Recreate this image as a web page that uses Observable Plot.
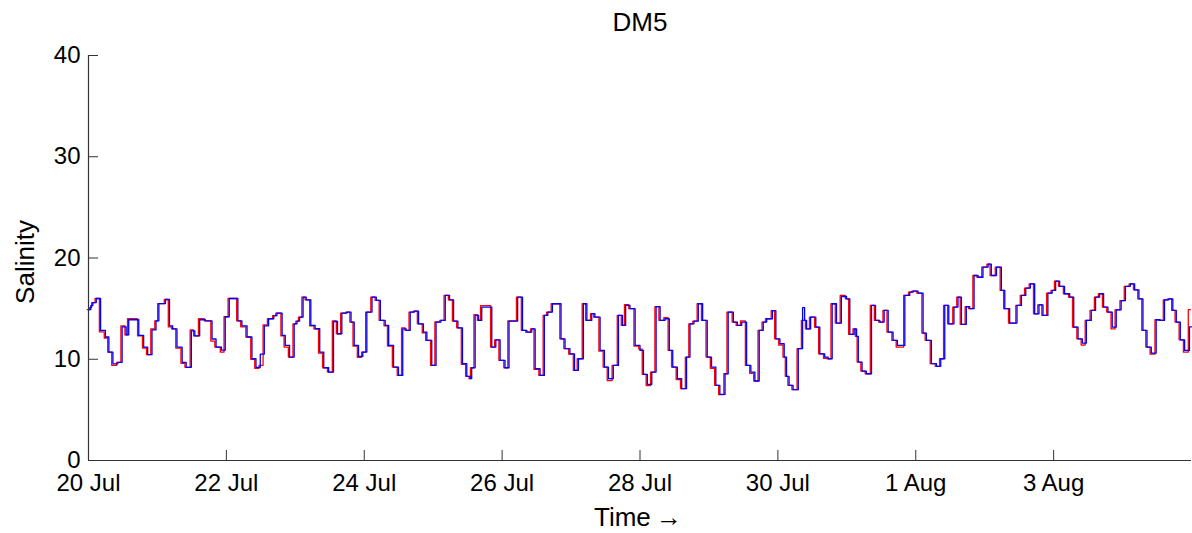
<!DOCTYPE html>
<html>
<head>
<meta charset="utf-8">
<script src="https://cdn.jsdelivr.net/npm/d3@7"></script>
<script src="https://cdn.jsdelivr.net/npm/@observablehq/plot@0.6"></script>
<style>
  html, body { margin: 0; padding: 0; background: #fff; }
  #chart { width: 1192px; height: 533px; }
</style>
</head>
<body>
<div id="chart"></div>
<script>
// ---- data (hours since 20 Jul 00:00, step start times) ----
const chartTitle = "DM5";
const yLabel = "Salinity";
const xLabel = "Time\u2009\u2192";
const tickDays = [0, 2, 4, 6, 8, 10, 12, 14];
const tickLabels = ["20 Jul", "22 Jul", "24 Jul", "26 Jul", "28 Jul", "30 Jul", "1 Aug", "3 Aug"];
const yTicks = [0, 10, 20, 30, 40];
const spanHours = 384;

const stepHours = [
  0, 0.8, 1.5, 2.7, 4.2, 5.9, 7.1, 8.5, 10.2, 11.7, 13.1, 14.0, 17.5, 19.2, 20.6, 22.1, 23.5, 24.5, 26.8, 28.2,
  29.3, 30.8, 32.6, 34.0, 35.8, 37.0, 38.7, 40.7, 43.0, 44.4, 46.3, 47.6, 49.0, 52.0, 53.4, 55.2, 56.9, 58.3, 59.8, 61.2,
  62.7, 64.5, 65.6, 67.4, 68.5, 70.0, 71.6, 72.6, 73.5, 74.7, 75.8, 77.4, 78.9, 80.5, 81.9, 83.6, 85.3, 86.7, 88.2, 90.0,
  91.4, 92.5, 94.0, 95.5, 96.9, 98.7, 100.2, 101.6, 103.3, 104.5, 106.2, 107.9, 109.4, 110.6, 112.0, 113.5, 114.9, 116.6, 117.8, 119.5,
  121.0, 122.7, 124.2, 125.7, 127.1, 128.6, 130.2, 131.7, 132.9, 133.4, 134.6, 135.8, 136.9, 140.4, 141.8, 143.3, 145.0, 146.4, 149.4, 151.1,
  152.6, 154.3, 155.5, 157.2, 158.7, 159.9, 161.5, 164.5, 165.9, 167.6, 169.2, 170.55, 172.3, 173.5, 175.2, 176.3, 178.1, 179.6, 181.0, 182.7,
  184.5, 185.9, 187.0, 188.5, 190.3, 192.0, 193.2, 194.55, 196.1, 197.6, 199.0, 200.7, 202.2, 203.4, 205.0, 206.5, 208.2, 209.4, 210.8, 212.3,
  213.8, 215.4, 216.9, 218.4, 219.8, 221.6, 222.7, 224.5, 225.9, 227.4, 229.1, 230.6, 232.0, 233.5, 234.9, 236.1, 238.1, 239.3, 240.7, 242.2,
  243.0, 243.9, 245.3, 247.1, 248.6, 249.3, 250.0, 251.4, 253.2, 254.6, 256.3, 257.5, 258.9, 260.4, 262.1, 263.9, 265.05, 266.55, 267.4, 268.0,
  269.3, 270.8, 272.6, 274.0, 275.5, 277.0, 278.4, 280.1, 281.6, 284.2, 285.9, 287.1, 288.8, 290.55, 291.7, 293.45, 295.2, 296.7, 298.1, 299.5,
  301.3, 302.7, 303.9, 305.6, 306.8, 308.3, 309.7, 311.4, 313.2, 314.3, 316.1, 317.8, 319.0, 320.7, 323.25, 324.8, 326.3, 327.9, 329.4, 330.9,
  332.3, 334.0, 335.5, 336.7, 338.1, 339.8, 341.6, 343.0, 344.5, 346.0, 347.4, 349.1, 350.6, 352.0, 353.4, 354.9, 356.4, 357.8, 359.5, 361.0,
  362.7, 364.2, 365.7, 367.1, 368.5, 370.0, 371.7, 373.1, 374.6, 376.1, 377.5, 378.7, 380.1, 381.6, 383.3, 384
];

const blueSalinity = [
  14.9, 15.3, 15.6, 16.0, 12.85, 12.2, 10.7, 9.55, 9.7, 13.2, 12.4, 13.9, 12.35, 11.2, 10.45, 12.9, 13.8, 15.5, 15.9, 13.3,
  13.0, 11.2, 9.7, 9.2, 12.8, 12.3, 13.9, 13.8, 12.0, 11.2, 10.9, 14.2, 16.0, 13.8, 13.3, 12.2, 10.05, 9.2, 10.5, 13.3,
  14.0, 14.3, 14.56, 12.35, 11.37, 10.21, 13.5, 13.77, 14.16, 16.13, 15.87, 13.34, 13.01, 10.71, 9.16, 8.73, 13.73, 12.52, 14.56, 14.66,
  13.67, 11.37, 10.28, 10.71, 14.66, 16.13, 15.81, 13.83, 13.34, 11.37, 9.23, 8.4, 13.0, 12.85, 14.66, 14.75, 13.5, 12.68, 11.86, 9.39,
  13.67, 13.83, 16.3, 15.87, 13.77, 13.1, 9.56, 8.31, 8.08, 9.16, 14.33, 13.83, 15.15, 11.2, 11.92, 9.88, 9.16, 13.77, 16.13, 12.85,
  12.68, 13.0, 9.06, 8.4, 14.33, 14.66, 15.48, 12.02, 11.04, 10.54, 8.9, 10.05, 15.48, 13.83, 14.5, 14.16, 10.87, 9.23, 8.08, 9.39,
  14.33, 13.34, 15.32, 15.0, 11.37, 10.87, 8.5, 7.52, 8.73, 15.2, 13.83, 14.0, 10.87, 9.23, 8.08, 7.09, 10.21, 13.5, 13.77, 15.48,
  13.83, 10.21, 9.23, 7.42, 6.53, 8.57, 14.66, 13.67, 13.34, 13.67, 9.39, 8.73, 7.85, 12.85, 13.67, 14.0, 14.8, 12.02, 11.53, 10.21,
  8.31, 7.42, 7.0, 11.04, 15.1, 13.83, 13.0, 14.16, 13.17, 10.54, 10.21, 10.05, 15.48, 13.57, 16.2, 15.97, 12.45, 13.0, 12.25, 9.72,
  8.83, 8.57, 15.32, 13.83, 13.67, 14.82, 12.68, 11.86, 11.37, 16.3, 16.63, 16.73, 16.53, 12.58, 11.86, 9.56, 9.3, 10.05, 15.32, 13.5,
  15.15, 16.13, 13.44, 15.2, 15.0, 18.27, 18.1, 19.1, 19.4, 18.27, 19.1, 16.8, 15.0, 13.57, 15.32, 16.3, 17.03, 17.45, 14.49, 15.38,
  14.33, 16.53, 16.8, 17.72, 17.2, 16.47, 16.13, 13.17, 12.02, 11.6, 13.83, 14.82, 16.13, 16.47, 15.15, 14.66, 13.17, 14.88, 15.8, 17.2,
  17.45, 16.86, 15.97, 12.85, 11.2, 10.61, 13.9, 13.83, 15.87, 15.97, 14.82, 13.67, 11.92, 10.87, 13.2, 13.2
];

const redSalinity = [
  14.9, 15.1, 15.6, 16.0, 12.7, 12.1, 10.7, 9.4, 9.7, 13.3, 12.4, 14.0, 12.3, 11.1, 10.45, 13.0, 13.8, 15.5, 15.9, 13.2,
  13.0, 11.1, 9.6, 9.2, 12.9, 12.3, 14.0, 13.8, 11.8, 11.2, 10.7, 14.2, 16.0, 13.8, 13.2, 12.2, 10.0, 9.1, 9.4, 13.4,
  14.0, 14.3, 14.56, 12.3, 11.2, 10.21, 13.5, 13.77, 14.16, 16.13, 15.87, 13.3, 13.0, 10.6, 9.16, 8.73, 13.8, 12.52, 14.56, 14.66,
  13.67, 11.3, 10.2, 10.71, 14.66, 16.13, 15.81, 13.83, 13.3, 11.3, 9.23, 8.4, 13.1, 12.85, 14.66, 14.75, 13.5, 12.6, 11.86, 9.39,
  13.7, 13.83, 16.3, 15.87, 13.77, 13.1, 9.5, 8.31, 8.08, 9.16, 14.4, 13.83, 15.3, 11.2, 11.92, 9.88, 9.16, 13.8, 16.13, 12.85,
  12.68, 13.0, 9.0, 8.4, 14.33, 14.66, 15.48, 12.02, 11.04, 10.5, 8.9, 10.05, 15.5, 13.83, 14.5, 14.16, 10.8, 9.23, 7.9, 9.39,
  14.33, 13.34, 15.4, 15.0, 11.3, 11.0, 8.5, 7.4, 8.73, 15.2, 13.83, 14.1, 10.87, 9.23, 8.0, 7.09, 10.21, 13.5, 13.77, 15.5,
  13.83, 10.21, 9.1, 7.42, 6.5, 8.57, 14.66, 13.67, 13.34, 13.8, 9.39, 8.6, 7.85, 12.85, 13.67, 14.0, 14.8, 12.02, 11.4, 10.21,
  8.31, 7.42, 7.0, 11.04, 13.83, 13.83, 13.0, 14.16, 13.17, 10.54, 10.1, 10.05, 15.48, 13.57, 16.3, 15.97, 12.45, 13.0, 12.25, 9.72,
  8.83, 8.57, 15.32, 13.83, 13.67, 14.82, 12.68, 11.86, 11.2, 16.3, 16.63, 16.73, 16.53, 12.58, 11.86, 9.56, 9.3, 10.05, 15.32, 13.5,
  15.15, 16.13, 13.44, 15.2, 15.0, 18.27, 18.1, 19.1, 19.4, 18.27, 19.1, 16.8, 15.0, 13.57, 15.32, 16.3, 17.03, 17.45, 14.49, 15.38,
  14.33, 16.53, 16.8, 17.72, 17.2, 16.47, 16.13, 13.17, 12.02, 11.4, 13.83, 14.82, 16.13, 16.47, 15.15, 14.66, 13.0, 14.88, 15.8, 17.2,
  17.45, 16.86, 15.97, 12.85, 11.2, 10.5, 13.9, 13.83, 15.87, 15.97, 14.82, 13.67, 11.92, 10.7, 14.9, 14.9
];

// ---- build tables ----
const t0 = new Date(2010, 6, 20).getTime();
const hour = 3600e3;
const toDate = h => new Date(t0 + h * hour);
const blueData = stepHours.map((h, i) => ({t: toDate(h), v: blueSalinity[i]}));
const redData = stepHours.map((h, i) => ({t: toDate(h), v: redSalinity[i]}));
const tickDates = tickDays.map(d => toDate(d * 24));
const labelOf = new Map(tickDates.map((d, i) => [d.getTime(), tickLabels[i]]));

const W = 1192, H = 533;
const mL = 88, mR = 1, mT = 55, mB = 73;
const frameW = W - mL - mR, frameH = H - mT - mB;
const tickLen = 10;
const axisColor = "#333";

const chart = Plot.plot({
  width: W,
  height: H,
  marginLeft: mL,
  marginRight: mR,
  marginTop: mT,
  marginBottom: mB,
  style: {fontFamily: "'Liberation Sans', Arial, Helvetica, sans-serif", fontSize: "24px", color: "#000", background: "#fff"},
  x: {type: "time", domain: [toDate(0), toDate(spanHours)]},
  y: {domain: [0, 40]},
  marks: [
    Plot.line(redData, {x: "t", y: "v", curve: "step-after", stroke: "#ff0000", strokeWidth: 1.3, dx: -1.2}),
    Plot.line(blueData, {x: "t", y: "v", curve: "step-after", stroke: "#0000ff", strokeWidth: 1.3}),
    Plot.axisX({ticks: tickDates, tickSize: 0, tickPadding: 13, tickFormat: d => labelOf.get(d.getTime()), label: null, fontSize: 24}),
    Plot.axisY({ticks: yTicks, tickSize: 0, tickPadding: 8, label: null, fontSize: 24}),
    Plot.tickX(tickDates, {x: d => d, insetTop: frameH - tickLen, stroke: axisColor}),
    Plot.tickY(yTicks, {y: d => d, insetRight: frameW - tickLen, stroke: axisColor}),
    Plot.ruleX([toDate(0)], {stroke: axisColor, strokeWidth: 1.2}),
    Plot.ruleY([0], {stroke: axisColor, strokeWidth: 1.2}),
    Plot.text([chartTitle], {frameAnchor: "top", dy: -33, text: d => d, fontSize: 26, textAnchor: "middle", lineAnchor: "middle"}),
    Plot.text([yLabel], {frameAnchor: "left", dx: -63, dy: 4, rotate: -90, text: d => d, fontSize: 26, textAnchor: "middle", lineAnchor: "middle"}),
    Plot.text([xLabel], {frameAnchor: "bottom", dy: 57, dx: -2, text: d => d, fontSize: 26, textAnchor: "middle", lineAnchor: "middle"})
  ]
});
document.getElementById("chart").appendChild(chart);
</script>
</body>
</html>
